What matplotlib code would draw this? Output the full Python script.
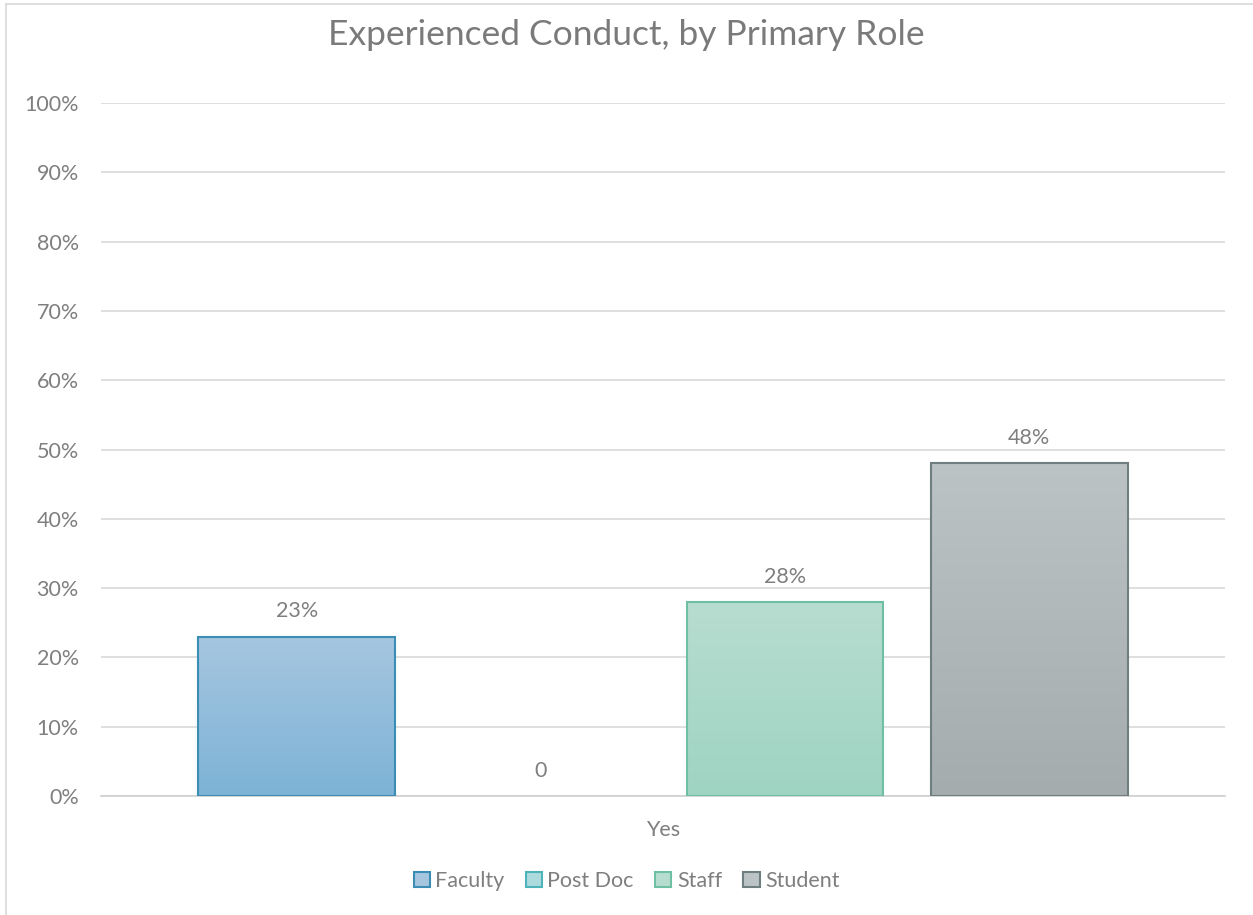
import matplotlib.pyplot as plt
import numpy as np
from matplotlib.patches import Patch, Rectangle
from matplotlib.colors import LinearSegmentedColormap

roles = ['Faculty', 'Post Doc', 'Staff', 'Student']
values = [23, 0, 28, 48]
labels = ['23%', '0', '28%', '48%']
category = 'Yes'

tops = ['#a6c6e0', '#acdadd', '#b7ddd0', '#bcc3c5']
bottoms = ['#7db3d6', '#8fcdd2', '#9fd4c2', '#a4acae']
edges = ['#3b8db3', '#4fb3ba', '#6fbfa3', '#6f7f80']

plt.rcParams['font.family'] = ['Lato', 'DejaVu Sans']
txt = '#7f7f7f'

fig = plt.figure(figsize=(12.53, 9.15), dpi=100)
ax = fig.add_axes([101 / 1253, 1 - 796 / 915, 1124 / 1253, 693 / 915])

x = np.arange(len(roles)) - 1.5
w = 0.807
for xi, v, lab, t, b, e in zip(x, values, labels, tops, bottoms, edges):
    if v > 0:
        cmap = LinearSegmentedColormap.from_list('g', [b, t])
        im = ax.imshow(np.linspace(0, 1, 256).reshape(-1, 1), cmap=cmap,
                       extent=[xi - w / 2, xi + w / 2, 0, v], origin='lower',
                       aspect='auto', zorder=2)
        r = Rectangle((xi - w / 2, 0), w, v, facecolor='none', edgecolor=e,
                      lw=1.5, zorder=3)
        ax.add_patch(r)
        im.set_clip_path(r)
    ax.text(xi, v + 2.2, lab, ha='center', va='bottom', fontsize=15.5, color=txt)

ax.set_xlim(-2.303, 2.303)
ax.set_ylim(0, 100)
ax.set_yticks(range(0, 101, 10))
ax.set_yticklabels([f'{t}%' for t in range(0, 101, 10)])
ax.set_xticks([0])
ax.set_xticklabels([category])
ax.tick_params(axis='both', length=0, labelsize=15.5, colors=txt)
ax.tick_params(axis='y', pad=16)
ax.tick_params(axis='x', pad=17)
ax.grid(axis='y', color='#d9d9d9', lw=1.2, zorder=0)
ax.set_axisbelow(True)
for s in ['top', 'right', 'left']:
    ax.spines[s].set_visible(False)
ax.spines['bottom'].set_color('#d0d0d0')
ax.spines['bottom'].set_linewidth(1.2)

fig.text(0.5, 1 - 35 / 915, 'Experienced Conduct, by Primary Role', ha='center',
         va='center', fontsize=25.5, color='#7a7a7a')

handles = [Patch(facecolor=t, edgecolor=e, lw=1.5) for t, e in zip(tops, edges)]
fig.legend(handles, roles, loc='center', bbox_to_anchor=(0.5, 1 - 881 / 915),
           ncol=4, frameon=False, fontsize=15.5, labelcolor=txt,
           handlelength=0.75, handleheight=0.75, handletextpad=0.25,
           columnspacing=1.0)

fig.add_artist(plt.Line2D([6 / 1253, 6 / 1253], [0, 1 - 4 / 915], color='#d9d9d9', lw=1.2))
fig.add_artist(plt.Line2D([6 / 1253, 1], [1 - 4 / 915, 1 - 4 / 915], color='#d9d9d9', lw=1.2))

fig.savefig('out.png', dpi=100)
